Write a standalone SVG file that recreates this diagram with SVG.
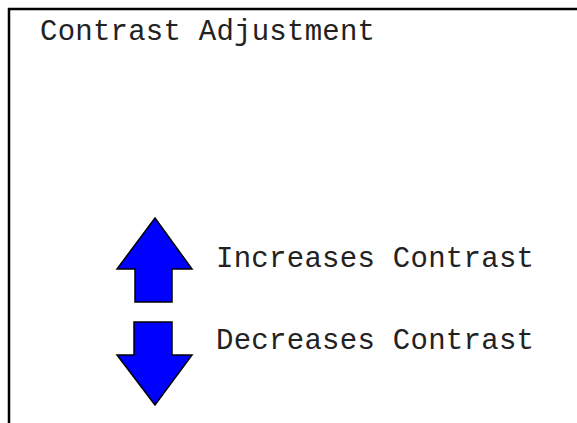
<svg xmlns="http://www.w3.org/2000/svg" width="577" height="423" viewBox="0 0 577 423">
<style>
.t{font-family:"Liberation Mono","Courier New",monospace;font-size:29px;fill:#222}
.arrow{fill:#0000ff;stroke:#000;stroke-width:1.5;stroke-linejoin:miter}
</style>
<rect x="0" y="0" width="577" height="423" fill="#fff"/>
<g id="frame">
<path d="M9,423 V9 H577" fill="none" stroke="#000" stroke-width="2.5"/>
</g>
<g id="title"><text class="t" x="40" y="40" textLength="335" lengthAdjust="spacing">Contrast Adjustment</text></g>
<g id="up">
<polygon class="arrow" points="155,218 192,269 172,269 172,302 135,302 135,269 117,269"/>
<text class="t" x="216" y="267" textLength="318" lengthAdjust="spacing">Increases Contrast</text>
</g>
<g id="down">
<polygon class="arrow" points="134,322 172,322 172,355 192,355 155,405 117,355 134,355"/>
<text class="t" x="216" y="349" textLength="318" lengthAdjust="spacing">Decreases Contrast</text>
</g>
</svg>
